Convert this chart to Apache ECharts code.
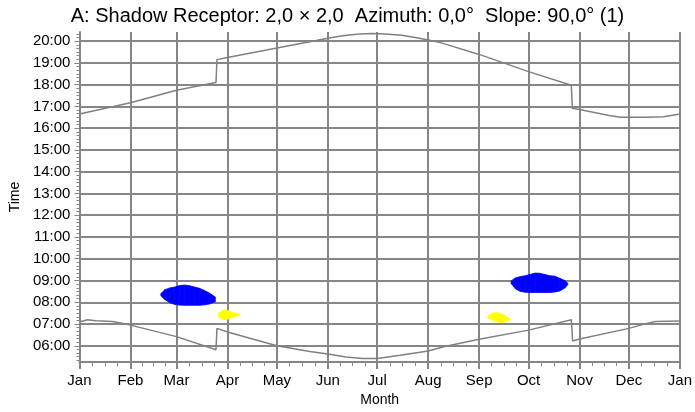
<!DOCTYPE html>
<html>
<head>
<meta charset="utf-8">
<title>Shadow Receptor</title>
<script src="https://cdn.jsdelivr.net/npm/echarts@6/dist/echarts.min.js"></script>
<style>
  html, body { margin: 0; padding: 0; background: #fff; }
  #chart { width: 695px; height: 412px; }
</style>
</head>
<body>
<div id="chart"></div>
<script>
// x axis: day of year, month labels at month starts
const monthNames = ['Jan', 'Feb', 'Mar', 'Apr', 'May', 'Jun', 'Jul', 'Aug', 'Sep', 'Oct', 'Nov', 'Dec', 'Jan']
const monthStarts = [0, 31, 59, 90, 120, 151, 181, 212, 243, 273, 304, 334, 365]
// y axis: hours shown as labels
const hourTicks = [6, 7, 8, 9, 10, 11, 12, 13, 14, 15, 16, 17, 18, 19, 20]

// upper gray curve (sunset), time in hours
const sunsetDays = [0, 31, 59, 83, 83.6, 90, 120, 140, 151, 160, 170, 178, 186, 196, 205, 212, 220, 243, 273, 299, 299.6, 304, 313, 322, 329, 345, 355, 365]
const sunsetTimes = [16.65, 17.17, 17.74, 18.1, 19.15, 19.25, 19.68, 19.97, 20.13, 20.25, 20.33, 20.35, 20.33, 20.27, 20.16, 20.05, 19.92, 19.39, 18.6, 17.97, 16.92, 16.86, 16.72, 16.58, 16.5, 16.5, 16.53, 16.65]

// lower gray curve (sunrise)
const sunriseDays = [0, 5, 10, 20, 25, 31, 59, 83, 83.6, 90, 120, 140, 151, 162, 172, 181, 195, 212, 222, 243, 273, 299, 299.8, 304, 334, 345, 350, 365]
const sunriseTimes = [7.09, 7.2, 7.15, 7.12, 7.05, 6.95, 6.42, 5.82, 6.8, 6.63, 6.0, 5.74, 5.62, 5.48, 5.41, 5.42, 5.56, 5.76, 5.97, 6.3, 6.72, 7.2, 6.22, 6.31, 6.8, 7.03, 7.12, 7.14]

// shadow periods: [day, from, to]
const blueSpring = [
  [49.5, 8.3, 8.4], [52, 8.12, 8.58], [55, 7.98, 8.66], [58, 7.9, 8.7], [61, 7.87, 8.77],
  [64, 7.86, 8.79], [67, 7.86, 8.76], [70, 7.86, 8.7], [73, 7.86, 8.64], [76, 7.88, 8.54],
  [79, 7.92, 8.42], [82.6, 8.02, 8.24]
]
const yellowSpring = [
  [84.6, 7.32, 7.5], [87, 7.22, 7.63], [89, 7.2, 7.66], [91, 7.24, 7.6], [93, 7.32, 7.53],
  [95, 7.36, 7.5], [97.7, 7.42, 7.45]
]
const blueAutumn = [
  [262.4, 8.86, 8.98], [265, 8.62, 9.12], [268, 8.5, 9.18], [271, 8.46, 9.22], [274, 8.45, 9.28],
  [277, 8.45, 9.34], [280, 8.45, 9.33], [283, 8.45, 9.27], [286, 8.45, 9.22], [289, 8.47, 9.2],
  [292, 8.52, 9.1], [295, 8.65, 9.0], [296.8, 8.8, 8.88]
]
const yellowAutumn = [
  [248.3, 7.28, 7.36], [251, 7.18, 7.5], [253, 7.12, 7.52], [255, 7.08, 7.5], [257, 7.07, 7.45],
  [259, 7.1, 7.38], [261.6, 7.18, 7.25]
]

const gridColor = '#868686'
const curveColor = '#808080'
const font = 'Liberation Sans, Arial, sans-serif'

// quarter-month minor ticks on x, 10 minute minor ticks on y
const xMinor = []
for (let i = 0; i < monthStarts.length - 1; i++) {
  const s = monthStarts[i], e = monthStarts[i + 1]
  for (let k = 1; k < 4; k++) xMinor.push(s + (e - s) * k / 4)
}
const yMinor = []
for (let m = 5 * 60 + 20; m <= 20 * 60 + 20; m += 10) {
  if (m % 60 !== 0) yMinor.push(m / 60)
}

function pairs(xs, ys) {
  return xs.map((x, i) => [x, ys[i]])
}

function blobSeries(rows, color) {
  return {
    type: 'custom',
    clip: true,
    silent: true,
    data: rows,
    renderItem(params, api) {
      const i = params.dataIndex
      if (i >= rows.length - 1) return null
      const a = rows[i], b = rows[i + 1]
      const pts = [
        api.coord([a[0], a[2]]), api.coord([b[0], b[2]]),
        api.coord([b[0], b[1]]), api.coord([a[0], a[1]])
      ]
      return {
        type: 'polygon',
        shape: { points: pts },
        style: { fill: color, stroke: color, lineWidth: 0.8 }
      }
    }
  }
}

function curveSeries(xs, ys) {
  return {
    type: 'line',
    data: pairs(xs, ys),
    showSymbol: false,
    silent: true,
    lineStyle: { color: curveColor, width: 1.5 }
  }
}

const chart = echarts.init(document.getElementById('chart'))
chart.setOption({
  animation: false,
  title: {
    text: 'A: Shadow Receptor: 2,0 × 2,0  Azimuth: 0,0°  Slope: 90,0° (1)',
    left: 'center',
    top: 1,
    textStyle: { fontFamily: font, fontSize: 20, fontWeight: 'normal', color: '#000' }
  },
  grid: { left: 79, right: 12, top: 32, bottom: 45 },
  xAxis: [
    {
      type: 'value',
      position: 'bottom',
      min: 0,
      max: 365,
      name: 'Month',
      nameLocation: 'middle',
      nameGap: 27,
      nameTextStyle: { fontFamily: font, fontSize: 14, color: '#000' },
      axisLine: { show: true, lineStyle: { color: gridColor, width: 2 } },
      axisTick: { show: true, length: 7, customValues: monthStarts, lineStyle: { color: gridColor, width: 2 } },
      axisLabel: {
        customValues: monthStarts,
        margin: 11,
        fontFamily: font,
        fontSize: 15,
        color: '#000',
        formatter: v => monthNames[monthStarts.indexOf(v)]
      },
      splitLine: { show: true, lineStyle: { color: gridColor, width: 2 } }
    },
    {
      type: 'value',
      position: 'bottom',
      min: 0,
      max: 365,
      axisLine: { show: false },
      axisTick: { show: true, length: 4, customValues: xMinor, lineStyle: { color: gridColor, width: 1 } },
      axisLabel: { show: false },
      splitLine: { show: false }
    }
  ],
  yAxis: [
    {
      type: 'value',
      position: 'left',
      min: 5.25,
      max: 20.42,
      name: 'Time',
      nameLocation: 'middle',
      nameGap: 53,
      nameTextStyle: { fontFamily: font, fontSize: 14, color: '#000' },
      axisLine: { show: true, lineStyle: { color: gridColor, width: 2 } },
      axisTick: { show: true, length: 5, customValues: hourTicks, lineStyle: { color: gridColor, width: 1 } },
      axisLabel: {
        customValues: hourTicks,
        margin: 9,
        fontFamily: font,
        fontSize: 15,
        color: '#000',
        formatter: v => (v < 10 ? '0' : '') + v + ':00'
      },
      splitLine: { show: true, lineStyle: { color: gridColor, width: 2 } }
    },
    {
      type: 'value',
      position: 'left',
      min: 5.25,
      max: 20.42,
      axisLine: { show: false },
      axisTick: { show: true, length: 3, customValues: yMinor, lineStyle: { color: gridColor, width: 1 } },
      axisLabel: { show: false },
      splitLine: { show: false }
    }
  ],
  series: [
    blobSeries(blueSpring, '#0000ff'),
    blobSeries(yellowSpring, '#ffff00'),
    blobSeries(blueAutumn, '#0000ff'),
    blobSeries(yellowAutumn, '#ffff00'),
    curveSeries(sunsetDays, sunsetTimes),
    curveSeries(sunriseDays, sunriseTimes)
  ]
})
</script>
</body>
</html>
